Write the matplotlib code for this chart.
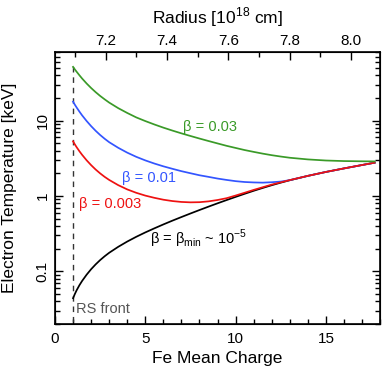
import matplotlib
matplotlib.use("Agg")
import matplotlib.pyplot as plt
from matplotlib.ticker import FixedLocator, MultipleLocator, LogLocator, NullFormatter

plt.rcParams['font.family'] = ['Liberation Sans', 'DejaVu Sans']
plt.rcParams['mathtext.fontset'] = 'custom'
plt.rcParams['mathtext.rm'] = 'Liberation Sans'

# Data
charge = [1, 1.1, 1.2, 1.35, 1.5, 1.75, 2, 2.25, 2.5, 2.75, 3, 3.5, 4, 4.5, 5, 5.5, 6, 6.5,
          7, 7.5, 8, 8.5, 9, 9.5, 10, 10.5, 11, 11.5, 12, 12.5, 13, 14, 15, 16, 17, 17.7]
temp_b003 = [51.5, 47.6, 44.3, 39.9, 36.1, 31.0, 27.0, 23.8, 21.2, 19.1, 17.3, 14.6, 12.6, 11.0,
             9.84, 8.87, 8.05, 7.36, 6.76, 6.24, 5.77, 5.35, 4.97, 4.62, 4.33, 4.06, 3.84, 3.64,
             3.47, 3.33, 3.21, 3.05, 2.95, 2.90, 2.88, 2.87]
temp_b001 = [17.8, 16.2, 14.86, 13.15, 11.72, 9.86, 8.43, 7.31, 6.43, 5.73, 5.16, 4.35, 3.75, 3.30,
             2.96, 2.69, 2.47, 2.29, 2.13, 2.00, 1.88, 1.79, 1.70, 1.63, 1.57, 1.53, 1.51, 1.50,
             1.52, 1.55, 1.62, 1.845, 2.08, 2.317, 2.57, 2.76]
temp_b0003 = [5.30, 4.82, 4.42, 3.92, 3.51, 2.97, 2.56, 2.24, 1.99, 1.79, 1.63, 1.39, 1.22, 1.10,
              1.01, 0.944, 0.891, 0.855, 0.832, 0.822, 0.826, 0.847, 0.883, 0.933, 1.012, 1.102,
              1.202, 1.303, 1.413, 1.514, 1.622, 1.845, 2.08, 2.317, 2.57, 2.76]
temp_bmin = [0.044, 0.0501, 0.0562, 0.0653, 0.0745, 0.0902, 0.1067, 0.1236, 0.141, 0.1585, 0.1762,
             0.2113, 0.2483, 0.2871, 0.3281, 0.3715, 0.4188, 0.4699, 0.5248, 0.5848, 0.6501,
             0.7211, 0.798, 0.881, 0.9705, 1.067, 1.17, 1.276, 1.387, 1.5, 1.614, 1.845, 2.08,
             2.317, 2.57, 2.76]
rs_front = 1.0
xlim = (0, 18)
ylim = (0.02, 80)
radius_lim = (7.035, 8.095)
ytick_vals = [0.1, 1, 10]
ytick_labels = ['0.1', '1', '10']
radius_ticks = [7.2, 7.4, 7.6, 7.8, 8.0]

green = '#3a9a28'
blue = '#3355ff'
red = '#ee1111'

fig = plt.figure(figsize=(3.82, 3.72), dpi=100)
ax = fig.add_axes([0.144, 0.129, 0.851, 0.730])
ax.set_yscale('log')
ax.set_xlim(*xlim)
ax.set_ylim(*ylim)

ax.plot([rs_front, rs_front], [0.021, 60], color='#333333', lw=1.0, dashes=(4, 3.5))
ax.plot(charge, temp_bmin, color='black', lw=1.25)
ax.plot(charge, temp_b001, color=blue, lw=1.25)
ax.plot(charge, temp_b0003, color=red, lw=1.25)
ax.plot(charge, temp_b003, color=green, lw=1.25)

fs = 10.5
ax.text(8.6, 8.2, 'β = 0.03', color=green, fontsize=fs, ha='center', va='center')
ax.text(5.2, 1.71, 'β = 0.01', color=blue, fontsize=fs, ha='center', va='center')
ax.text(3.05, 0.79, 'β = 0.003', color=red, fontsize=fs, ha='center', va='center')
ax.text(5.25, 0.272, 'β = β$_\\mathregular{min}$ ~ 10$^\\mathregular{-5}$', color='black',
        fontsize=fs, ha='left', va='center')
ax.text(1.15, 0.0315, 'RS front', color='#555555', fontsize=fs, ha='left', va='center')

ax.set_xlabel('Fe Mean Charge', fontsize=12.5, labelpad=3)
ax.set_ylabel('Electron Temperature [keV]', fontsize=12.5, labelpad=13)

ax.xaxis.set_major_locator(MultipleLocator(5))
ax.xaxis.set_minor_locator(MultipleLocator(1))
ax.yaxis.set_major_locator(FixedLocator(ytick_vals))
ax.set_yticklabels(ytick_labels, rotation=90, va='center')
ax.yaxis.set_minor_locator(LogLocator(base=10, subs=range(2, 10)))
ax.yaxis.set_minor_formatter(NullFormatter())
ax.tick_params(which='both', direction='in', top=False, right=True, labelsize=11, width=1.0)
ax.tick_params(which='major', length=6)
ax.tick_params(which='minor', length=3.5)
ax.tick_params(axis='x', pad=6)
ax.tick_params(axis='y', pad=4)
for s in ax.spines.values():
    s.set_linewidth(1.2)

ax2 = ax.twiny()
ax2.set_xlim(*radius_lim)
ax2.xaxis.set_major_locator(FixedLocator(radius_ticks))
ax2.set_xticklabels([f'{r:.1f}' for r in radius_ticks])
ax2.xaxis.set_minor_locator(MultipleLocator(0.1))
ax2.tick_params(which='both', direction='in', labelsize=11, width=1.0, pad=3)
ax2.tick_params(which='major', length=6)
ax2.tick_params(which='minor', length=3.5)
ax2.set_xlabel('Radius [10$^\\mathregular{18}$ cm]', fontsize=12.5, labelpad=7.5)

fig.savefig('out.png', dpi=100)
